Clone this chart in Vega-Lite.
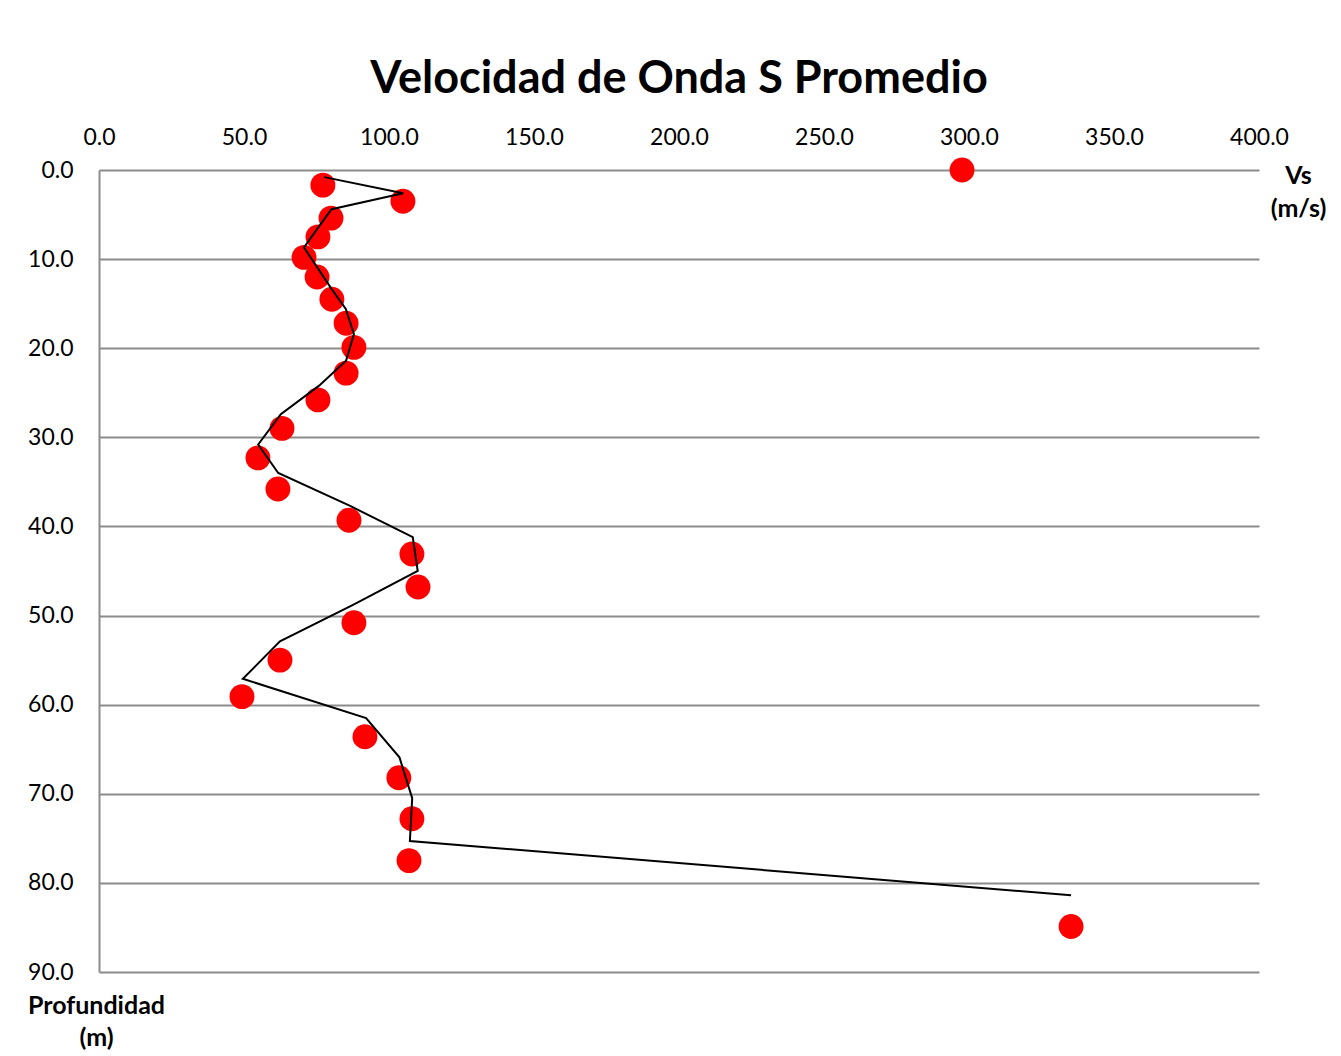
{
  "$schema": "https://vega.github.io/schema/vega-lite/v6.json",
  "width": 1160,
  "height": 802,
  "autosize": {"type": "none"},
  "padding": {"left": 99, "top": 170, "right": 82, "bottom": 84},
  "background": "white",
  "title": {
    "text": "Velocidad de Onda S Promedio",
    "font": "Lato",
    "fontSize": 45,
    "fontWeight": "bold",
    "color": "black",
    "anchor": "middle",
    "frame": "group",
    "offset": 24
  },
  "datasets": {
    "puntos": [
      {"vs": 297.6, "prof": 0.0},
      {"vs": 77.2, "prof": 1.7},
      {"vs": 104.8, "prof": 3.5},
      {"vs": 80.0, "prof": 5.4},
      {"vs": 75.5, "prof": 7.5},
      {"vs": 70.7, "prof": 9.8},
      {"vs": 75.2, "prof": 12.0},
      {"vs": 80.3, "prof": 14.5},
      {"vs": 85.2, "prof": 17.2},
      {"vs": 87.9, "prof": 19.9},
      {"vs": 85.2, "prof": 22.8},
      {"vs": 75.5, "prof": 25.8},
      {"vs": 63.1, "prof": 29.0},
      {"vs": 54.8, "prof": 32.3},
      {"vs": 61.7, "prof": 35.8},
      {"vs": 86.2, "prof": 39.3},
      {"vs": 107.9, "prof": 43.1},
      {"vs": 110.0, "prof": 46.8},
      {"vs": 87.9, "prof": 50.8},
      {"vs": 62.4, "prof": 55.0},
      {"vs": 49.3, "prof": 59.1},
      {"vs": 91.7, "prof": 63.6},
      {"vs": 103.4, "prof": 68.2},
      {"vs": 107.9, "prof": 72.8},
      {"vs": 106.9, "prof": 77.5},
      {"vs": 335.2, "prof": 84.9}
    ],
    "linea": [
      {"vs": 77.7, "prof": 0.8},
      {"vs": 104.9, "prof": 2.6},
      {"vs": 80.2, "prof": 4.4},
      {"vs": 75.5, "prof": 6.5},
      {"vs": 70.7, "prof": 8.7},
      {"vs": 75.2, "prof": 10.9},
      {"vs": 80.3, "prof": 13.4},
      {"vs": 85.1, "prof": 15.6},
      {"vs": 87.9, "prof": 18.4},
      {"vs": 85.2, "prof": 21.4},
      {"vs": 75.9, "prof": 24.2},
      {"vs": 62.7, "prof": 27.4},
      {"vs": 54.9, "prof": 30.8},
      {"vs": 61.8, "prof": 34.0},
      {"vs": 86.6, "prof": 37.7},
      {"vs": 108.2, "prof": 41.2},
      {"vs": 109.9, "prof": 45.0},
      {"vs": 87.6, "prof": 48.8},
      {"vs": 62.4, "prof": 52.9},
      {"vs": 49.6, "prof": 57.1},
      {"vs": 92.1, "prof": 61.5},
      {"vs": 103.6, "prof": 65.9},
      {"vs": 108.0, "prof": 70.5},
      {"vs": 107.2, "prof": 75.3},
      {"vs": 335.2, "prof": 81.4}
    ]
  },
  "encoding": {
    "x": {
      "field": "vs",
      "type": "quantitative",
      "scale": {"domain": [0, 400], "nice": false, "zero": false},
      "axis": {
        "orient": "top",
        "values": [0, 50, 100, 150, 200, 250, 300, 350, 400],
        "format": ".1f",
        "grid": false,
        "domain": false,
        "ticks": false,
        "labelFont": "Lato",
        "labelFontSize": 23,
        "labelColor": "black",
        "labelPadding": 21,
        "labelFlush": false,
        "labelOverlap": false,
        "title": ["Vs", "(m/s)"],
        "titleFont": "Lato",
        "titleFontSize": 25,
        "titleFontWeight": "bold",
        "titleColor": "black",
        "titleLineHeight": 33,
        "titleX": 1199,
        "titleY": -7,
        "titleAlign": "center",
        "titleBaseline": "top",
        "titleAngle": 0
      }
    },
    "y": {
      "field": "prof",
      "type": "quantitative",
      "scale": {"domain": [0, 90], "reverse": true, "nice": false, "zero": false},
      "axis": {
        "orient": "left",
        "values": [0, 10, 20, 30, 40, 50, 60, 70, 80, 90],
        "format": ".1f",
        "grid": true,
        "gridColor": "#8c8c8c",
        "gridWidth": 2,
        "gridOpacity": 1,
        "domain": true,
        "domainColor": "#8c8c8c",
        "domainWidth": 2,
        "ticks": false,
        "labelFont": "Lato",
        "labelFontSize": 23,
        "labelColor": "black",
        "labelPadding": 26,
        "labelFlush": false,
        "labelOverlap": false,
        "labelBaseline": "middle",
        "title": ["Profundidad", "(m)"],
        "titleFont": "Lato",
        "titleFontSize": 25,
        "titleFontWeight": "bold",
        "titleColor": "black",
        "titleLineHeight": 32,
        "titleX": -3,
        "titleY": 823,
        "titleAlign": "center",
        "titleBaseline": "top",
        "titleAngle": 0
      }
    }
  },
  "layer": [
    {
      "data": {"name": "puntos"},
      "mark": {"type": "circle", "size": 620, "color": "#ff0000", "opacity": 1}
    },
    {
      "data": {"name": "linea"},
      "mark": {"type": "line", "color": "black", "strokeWidth": 2},
      "encoding": {"order": {"field": "prof", "type": "quantitative"}}
    }
  ],
  "config": {
    "view": {"stroke": null}
  }
}
